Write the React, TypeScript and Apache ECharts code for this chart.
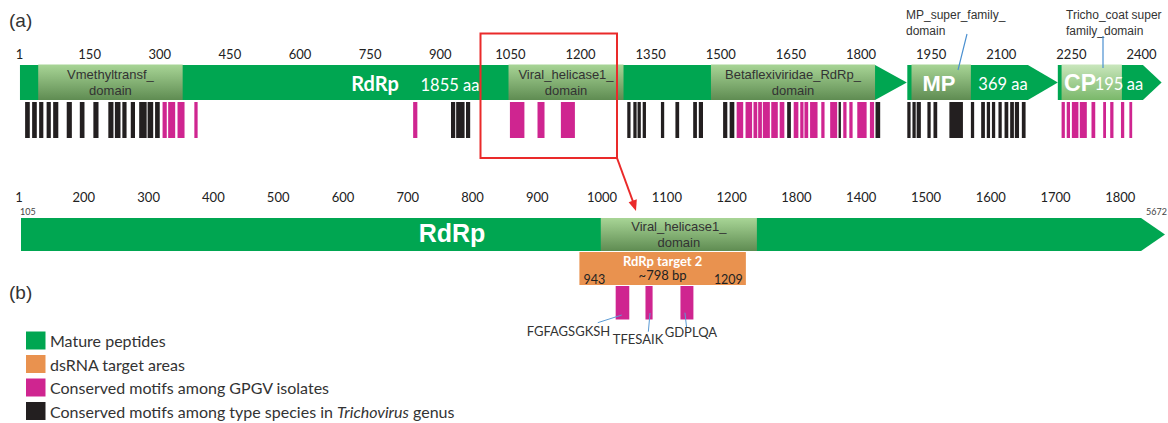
import React, { useEffect, useRef } from 'react';
import * as echarts from 'echarts';

// ---------------- Panel (a): whole genome, amino-acid positions ----------------
const topTickValues = [0, 150, 300, 450, 600, 750, 900, 1050, 1200, 1350, 1500, 1650, 1800, 1950, 2100, 2250, 2400];
const topTickLabels = ['1', '150', '300', '450', '600', '750', '900', '1050', '1200', '1350', '1500', '1650', '1800', '1950', '2100', '2250', '2400'];

const geneNames = ['RdRp', 'MP', 'CP'];
const geneStart = [1, 1899, 2221];
const geneBodyEnd = [1830, 2157, 2403];
const geneTip = [1898, 2221, 2443];

const domainNames = ['Vmethyltransf_\ndomain', 'Viral_helicase1_\ndomain', 'Betaflexiviridae_RdRp_\ndomain', '', ''];
const domainStart = [40, 1046, 1479, 1908, 2229];
const domainEnd = [349, 1292, 1830, 2035, 2358];

const blackMotifs: number[][] = [
  [12, 22], [27, 37], [42, 51], [58, 67], [72, 83], [101, 112], [129, 139], [158, 169], [190, 201], [204, 216],
  [220, 229], [238, 247], [256, 272], [274, 286], [290, 300],
  [923, 932], [934, 952], [955, 964],
  [1300, 1307], [1313, 1320], [1322, 1329], [1333, 1340], [1372, 1379], [1403, 1411], [1441, 1449], [1453, 1462],
  [1505, 1514], [1519, 1529], [1642, 1650], [1752, 1757], [1831, 1841],
  [1899, 1906], [1910, 1917], [1919, 1928], [1942, 1949], [1955, 1963], [1989, 2018], [2035, 2042], [2057, 2065],
  [2069, 2076], [2080, 2087], [2094, 2101], [2107, 2115], [2119, 2127], [2129, 2138], [2144, 2152],
];
const pinkMotifs: number[][] = [
  [306, 315], [318, 333], [338, 353], [374, 381],
  [842, 851], [1049, 1080], [1108, 1123], [1158, 1188],
  [1534, 1548], [1553, 1567], [1570, 1578], [1580, 1588], [1590, 1605], [1608, 1622], [1626, 1636], [1656, 1666],
  [1670, 1677], [1679, 1687], [1691, 1707], [1715, 1722], [1734, 1749], [1762, 1769], [1775, 1782], [1792, 1812],
  [1819, 1828],
  [2229, 2236], [2240, 2247], [2251, 2265], [2268, 2283], [2293, 2301], [2318, 2324], [2333, 2340], [2356, 2363], [2374, 2380],
];

// ---------------- Panel (b): RdRp zoom ----------------
const bottomTickValues = [100, 200, 300, 400, 500, 600, 700, 800, 900, 1000, 1100, 1200, 1300, 1400, 1500, 1600, 1700, 1800];
const bottomTickLabels = ['1', '200', '300', '400', '500', '600', '700', '800', '900', '1000', '1100', '1200', '1800', '1400', '1500', '1600', '1700', '1800'];

const rdrpGene = [103, 1832, 1869]; // start, body end, arrow tip
const helicaseDomain = [998, 1239];
const targetRange = [965, 1222];
const targetName = 'RdRp target 2';
const targetSize = '~798 bp';
const targetEnds = ['943', '1209'];
const helicaseMotifs: number[][] = [[1021, 1042], [1067, 1078], [1121, 1141]];
const helicaseMotifNames = ['FGFAGSGKSH', 'TFESAIK', 'GDPLQA'];

const legendLabels = ['Mature peptides', 'dsRNA target areas', 'Conserved motifs among GPGV isolates', 'Conserved motifs among type species in {i|Trichovirus} genus'];

// ---------------- styles ----------------
const GREEN = '#00a651';
const PINK = '#cf2590';
const BLACK = '#231f20';
const ORANGE = '#e9924f';
const legendColors = [GREEN, ORANGE, PINK, BLACK];
const LATO = 'Lato, "Open Sans", sans-serif';
const ARIAL = '"Liberation Sans", Arial, sans-serif';

const domainGrad = () =>
  new echarts.graphic.LinearGradient(0, 0, 0, 1, [
    { offset: 0, color: '#a8d596' },
    { offset: 1, color: '#5f8c52' },
  ]);
const paleGrad = () =>
  new echarts.graphic.LinearGradient(0, 0, 0, 1, [
    { offset: 0, color: '#c9e6bc' },
    { offset: 1, color: '#7ab86a' },
  ]);

const txt = (text: string, x: number, y: number, font: string, fill: string, align = 'center', extra: any = {}) => ({
  type: 'text',
  z: 100,
  style: { text, x, y, font, fill, textAlign: align, align, textVerticalAlign: 'middle', verticalAlign: 'middle', ...extra },
});

const xOf = (api: any, v: number) => api.coord([v, 0])[0];

const option: any = {
  animation: false,
  grid: [
    { left: 19.5, right: 3.1, top: 62, height: 40 },
    { left: 19.06, right: 0, top: 207, height: 40 },
  ],
  xAxis: [
    {
      gridIndex: 0, type: 'value', min: 0, max: 2450, interval: 150, position: 'top',
      axisLine: { show: false }, axisTick: { show: false }, splitLine: { show: false },
      axisLabel: {
        margin: 2, fontSize: 13, fontFamily: LATO, color: '#222',
        formatter: (v: number) => { const i = topTickValues.indexOf(v); return i >= 0 ? topTickLabels[i] : ''; },
      },
    },
    {
      gridIndex: 1, type: 'value', min: 100, max: 1869, interval: 100, position: 'top',
      axisLine: { show: false }, axisTick: { show: false }, splitLine: { show: false },
      axisLabel: {
        margin: 4, fontSize: 13, fontFamily: LATO, color: '#222',
        formatter: (v: number) => { const i = bottomTickValues.indexOf(v); return i >= 0 ? bottomTickLabels[i] : ''; },
      },
    },
  ],
  yAxis: [
    { gridIndex: 0, type: 'value', min: 0, max: 1, show: false },
    { gridIndex: 1, type: 'value', min: 0, max: 1, show: false },
  ],
  series: [
    // genes (a)
    {
      type: 'custom', xAxisIndex: 0, yAxisIndex: 0, clip: false,
      data: geneNames.map((n, i) => [geneStart[i], geneBodyEnd[i], geneTip[i]]),
      renderItem: (p: any, api: any) => {
        const x0 = xOf(api, api.value(0)), x1 = xOf(api, api.value(1)), x2 = xOf(api, api.value(2));
        return { type: 'polygon', shape: { points: [[x0, 65], [x1, 65], [x2, 82.5], [x1, 100], [x0, 100]] }, style: { fill: GREEN } };
      },
    },
    // domains (a)
    {
      type: 'custom', xAxisIndex: 0, yAxisIndex: 0, clip: false,
      data: domainNames.map((n, i) => [domainStart[i], domainEnd[i], i]),
      renderItem: (p: any, api: any) => {
        const i = p.dataIndex;
        const x0 = xOf(api, api.value(0)), x1 = xOf(api, api.value(1));
        const children: any[] = [
          { type: 'rect', shape: { x: x0, y: 64.5, width: x1 - x0, height: 35.5 }, style: { fill: i === 4 ? paleGrad() : domainGrad() } },
        ];
        if (domainNames[i]) children.push(txt(domainNames[i], (x0 + x1) / 2, 82, `13px ${ARIAL}`, '#333', 'center', { lineHeight: 16 }));
        return { type: 'group', children };
      },
    },
    // black motifs (a)
    {
      type: 'custom', xAxisIndex: 0, yAxisIndex: 0, clip: false, data: blackMotifs,
      renderItem: (p: any, api: any) => {
        const x0 = xOf(api, api.value(0)), x1 = xOf(api, api.value(1));
        return { type: 'rect', shape: { x: x0, y: 102, width: x1 - x0, height: 36 }, style: { fill: BLACK } };
      },
    },
    // pink motifs (a)
    {
      type: 'custom', xAxisIndex: 0, yAxisIndex: 0, clip: false, data: pinkMotifs,
      renderItem: (p: any, api: any) => {
        const x0 = xOf(api, api.value(0)), x1 = xOf(api, api.value(1));
        return { type: 'rect', shape: { x: x0, y: 102, width: x1 - x0, height: 36 }, style: { fill: PINK } };
      },
    },
    // RdRp gene (b)
    {
      type: 'custom', xAxisIndex: 1, yAxisIndex: 1, clip: false, data: [rdrpGene],
      renderItem: (p: any, api: any) => {
        const x0 = xOf(api, api.value(0)), x1 = xOf(api, api.value(1)), x2 = xOf(api, api.value(2));
        return { type: 'polygon', shape: { points: [[x0, 218], [x1, 218], [x2, 234.5], [x1, 251], [x0, 251]] }, style: { fill: GREEN } };
      },
    },
    // helicase domain (b)
    {
      type: 'custom', xAxisIndex: 1, yAxisIndex: 1, clip: false, data: [helicaseDomain],
      renderItem: (p: any, api: any) => {
        const x0 = xOf(api, api.value(0)), x1 = xOf(api, api.value(1));
        return {
          type: 'group', children: [
            { type: 'rect', shape: { x: x0, y: 218, width: x1 - x0, height: 33 }, style: { fill: domainGrad() } },
            txt(domainNames[1], (x0 + x1) / 2, 234, `13px ${ARIAL}`, '#333', 'center', { lineHeight: 16 }),
          ],
        };
      },
    },
    // dsRNA target (b)
    {
      type: 'custom', xAxisIndex: 1, yAxisIndex: 1, clip: false, data: [targetRange],
      renderItem: (p: any, api: any) => {
        const x0 = xOf(api, api.value(0)), x1 = xOf(api, api.value(1));
        const cx = (x0 + x1) / 2;
        return {
          type: 'group', children: [
            { type: 'rect', shape: { x: x0, y: 252, width: x1 - x0, height: 33 }, style: { fill: ORANGE } },
            txt(targetName, cx, 260.5, `bold 13px ${LATO}`, '#fff'),
            txt(targetSize, cx, 275, `13px ${LATO}`, '#222'),
            txt(targetEnds[0], x0 + 4, 279.5, `12.5px ${LATO}`, '#222', 'left'),
            txt(targetEnds[1], x1 - 3, 279.5, `12.5px ${LATO}`, '#222', 'right'),
          ],
        };
      },
    },
    // helicase motifs (b)
    {
      type: 'custom', xAxisIndex: 1, yAxisIndex: 1, clip: false, data: helicaseMotifs,
      renderItem: (p: any, api: any) => {
        const i = p.dataIndex;
        const x0 = xOf(api, api.value(0)), x1 = xOf(api, api.value(1));
        const cx = (x0 + x1) / 2;
        const labelDx = [-54, -11, 4];
        const labelY = [331, 338.5, 332];
        const lead = [[-24.7, 322.7, -0.7, 315], [-0.7, 331.7, 1, 313], [-0.4, 327, -2, 312.7]][i];
        return {
          type: 'group', children: [
            { type: 'rect', shape: { x: x0, y: 286, width: x1 - x0, height: 33.5 }, style: { fill: PINK } },
            { type: 'line', shape: { x1: cx + lead[0], y1: lead[1], x2: cx + lead[2], y2: lead[3] }, style: { stroke: '#5b9bd5', lineWidth: 1 } },
            txt(helicaseMotifNames[i], cx + labelDx[i], labelY[i], `13px ${LATO}`, '#333'),
          ],
        };
      },
    },
  ],
  graphic: [
    txt('(a)', 9, 20, `19px ${ARIAL}`, '#333', 'left'),
    txt('(b)', 9, 292, `19px ${ARIAL}`, '#333', 'left'),
    // gene labels
    txt(geneNames[0], 375, 83, `bold 20px ${LATO}`, '#fff'),
    txt('1855 aa', 450, 85, `16.5px ${LATO}`, '#fff'),
    txt(geneNames[1], 939, 83, `bold 22px ${ARIAL}`, '#fff'),
    txt('369 aa', 1003, 84, `16.5px ${LATO}`, '#fff'),
    txt(geneNames[2], 1080, 83, `bold 23px ${ARIAL}`, '#fff'),
    txt('195', 1109, 84, `16.5px ${LATO}`, '#fff'),
    txt('aa', 1135, 84, `16.5px ${LATO}`, '#fff'),
    txt(geneNames[0], 452, 233, `bold 25px ${ARIAL}`, '#fff'),
    // annotations above
    txt('MP_super_family_\ndomain', 906, 23, `12px ${ARIAL}`, '#333', 'left', { lineHeight: 16 }),
    { type: 'line', z: 100, shape: { x1: 967, y1: 34, x2: 958, y2: 70 }, style: { stroke: '#4a8fd0', lineWidth: 1.2 } },
    txt('Tricho_coat super\nfamily_domain', 1066, 23, `12px ${ARIAL}`, '#333', 'left', { lineHeight: 16 }),
    { type: 'line', z: 100, shape: { x1: 1103, y1: 36, x2: 1103, y2: 68 }, style: { stroke: '#4a8fd0', lineWidth: 1.2 } },
    // zoom box + arrow
    { type: 'rect', z: 100, shape: { x: 480.5, y: 33.5, width: 136.5, height: 124.5 }, style: { fill: 'none', stroke: '#ea2a2a', lineWidth: 2 } },
    { type: 'line', z: 100, shape: { x1: 617, y1: 158, x2: 633.5, y2: 203 }, style: { stroke: '#ea2a2a', lineWidth: 2 } },
    { type: 'polygon', z: 100, shape: { points: [[636, 211], [628.6, 202.2], [636.8, 199.2]] }, style: { fill: '#ea2a2a' } },
    // nucleotide coordinates
    txt('105', 20, 211, `9px ${LATO}`, '#444', 'left'),
    txt('5672', 1167, 211, `9px ${LATO}`, '#444', 'right'),
    // legend
    ...legendLabels.flatMap((label, i) => {
      const cy = [340.5, 364, 387.5, 411][i];
      return [
        { type: 'rect', z: 100, shape: { x: 26, y: cy - 9, width: 19.5, height: 18 }, style: { fill: legendColors[i] } },
        txt(label, 50, cy, `16px ${LATO}`, '#333', 'left', { rich: { i: { font: `italic 16px ${LATO}`, fill: '#333' } } }),
      ];
    }),
  ],
};

export default function App() {
  const ref = useRef<HTMLDivElement>(null);
  useEffect(() => {
    const chart = echarts.init(ref.current!, null, { renderer: 'svg' });
    chart.setOption(option);
    return () => chart.dispose();
  }, []);
  return <div ref={ref} style={{ position: 'absolute', left: 0, top: 0, width: 1168, height: 423 }} />;
}
